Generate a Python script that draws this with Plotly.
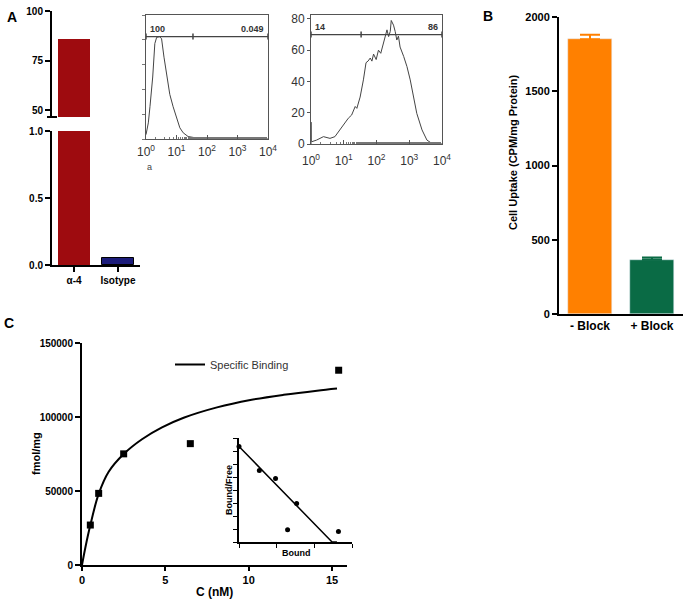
import plotly.graph_objects as go

W, H = 686, 601
FONT = "Liberation Sans, Arial, sans-serif"

# ---------------- Panel A: bar chart (broken axis) ----------------
a_cats = ["α-4", "Isotype"]
a_vals = [86, 0.05]
a_colors = ["#9E0B0F", "#1C1C7A"]
a_upper_ticks = [50, 75, 100]
a_lower_ticks = [0.0, 0.5, 1.0]
a_lower_ticktext = ["0.0", "0.5", "1.0"]

# ---------------- Panel A: flow histograms ----------------
h1_logx = [0.0, 0.076, 0.13, 0.22, 0.29, 0.35, 0.44, 0.51, 0.59, 0.68, 0.78,
           0.89, 1.0, 1.11, 1.22, 1.38, 1.66, 1.98, 3.0, 4.0]
h1_count = [3.5, 13, 26, 50, 77, 82, 82.5, 81, 66, 50, 36,
            26, 17, 9, 5, 2, 0.8, 0, 0, 0]
h1_gate = {"level": 82.6, "lo": 0.0, "mid": 1.54, "hi": 4.0,
           "left_label": "100", "right_label": "0.049"}

h2_logx = [0.0, 0.0, 0.005, 0.03, 0.17, 0.38, 0.48, 0.58, 0.73, 0.84, 0.99,
           1.14, 1.24, 1.35, 1.4, 1.5, 1.6, 1.68, 1.74, 1.81, 1.86, 1.91,
           1.99, 2.06, 2.13, 2.21, 2.26, 2.32, 2.37, 2.42, 2.45, 2.52, 2.57,
           2.62, 2.67, 2.72, 2.83, 2.93, 3.03, 3.13, 3.23, 3.39, 3.54, 3.69, 4.0]
h2_count = [0, 14, 2, 1.5, 2.5, 4.7, 4, 3.6, 4.7, 8, 12,
            16.5, 18.5, 24, 22.8, 30, 41, 52, 53, 55, 53, 57.5,
            54, 60, 58, 64, 67.6, 73, 68.7, 72, 79, 76, 72,
            66.5, 69, 62, 56, 49.5, 41, 30, 19.6, 9, 2.5, 0.4, 0]
h2_gate = {"level": 70, "lo": 0.0, "mid": 1.53, "hi": 4.0,
           "left_label": "14", "right_label": "86"}
hist_tickvals = [1, 10, 100, 1000, 10000]
hist_ticktext = ["10<sup>0</sup>", "10<sup>1</sup>", "10<sup>2</sup>",
                 "10<sup>3</sup>", "10<sup>4</sup>"]

# ---------------- Panel B ----------------
b_cats = ["- Block", "+ Block"]
b_vals = [1850, 365]
b_err = [30, 15]
b_colors = ["#FF8000", "#0A6B45"]

# ---------------- Panel C ----------------
c_conc = [0.5, 1.0, 2.5, 6.5, 15.4]
c_bound = [27000, 48400, 75100, 82000, 131600]
fit_conc = [0, 0.2, 0.5, 1.0, 1.6, 2.5, 3.6, 4.8, 6.1, 8.1, 10.1, 12.1, 14.1, 15.3]
fit_bound = [0, 11700, 27000, 48000, 63000, 75000, 85000, 93000, 99500,
             106500, 111500, 115000, 117800, 119200]

# Scatchard inset
sc_bound = [0, 0.54, 0.97, 1.53, 1.29, 2.64]
sc_ratio = [7.35, 5.5, 4.88, 2.97, 0.95, 0.8]
sc_line_x = [0, 2.47, 2.6]
sc_line_y = [7.35, 0, 0]


def dx(a, b):
    return [a / W, b / W]


def dy(top, bottom):
    return [1 - bottom / H, 1 - top / H]


def px(x):
    return x / W


def py(y):
    return 1 - y / H


bold11 = dict(family=FONT, size=11, color="black", weight="bold")
bold10 = dict(family=FONT, size=10, color="black", weight="bold")

fig = go.Figure()

# Panel A bars (upper and lower segments)
for xa, ya in [("x", "y"), ("x2", "y2")]:
    fig.add_trace(go.Bar(x=a_cats, y=a_vals,
                         marker=dict(color=a_colors, line=dict(color="black", width=[0, 1])),
                         width=0.72, xaxis=xa, yaxis=ya, showlegend=False))

# Histograms
fig.add_trace(go.Scatter(x=[10 ** v for v in h1_logx], y=h1_count, mode="lines",
                         line=dict(color="#444", width=1), xaxis="x3", yaxis="y3", showlegend=False))
fig.add_trace(go.Scatter(x=[10 ** v for v in h2_logx], y=h2_count, mode="lines",
                         line=dict(color="#444", width=1), xaxis="x4", yaxis="y4", showlegend=False))

# Panel B
for cat, val, err, col in zip(b_cats, b_vals, b_err, b_colors):
    fig.add_trace(go.Bar(x=[cat], y=[val], marker=dict(color=col), width=0.72,
                         error_y=dict(type="data", array=[err], arrayminus=[0], symmetric=False,
                                      color=col, thickness=2, width=10),
                         xaxis="x5", yaxis="y5", showlegend=False))

# Panel C
fig.add_trace(go.Scatter(x=fit_conc, y=fit_bound, mode="lines",
                         line=dict(color="black", width=2, shape="spline", smoothing=1),
                         name="Specific Binding", xaxis="x6", yaxis="y6", showlegend=True))
fig.add_trace(go.Scatter(x=c_conc, y=c_bound, mode="markers", marker=dict(symbol="square", size=7, color="black"),
                         xaxis="x6", yaxis="y6", showlegend=False, cliponaxis=False))

# Inset
fig.add_trace(go.Scatter(x=sc_line_x, y=sc_line_y, mode="lines", line=dict(color="black", width=1.5),
                         xaxis="x7", yaxis="y7", showlegend=False, cliponaxis=False))
fig.add_trace(go.Scatter(x=sc_bound, y=sc_ratio, mode="markers", marker=dict(symbol="circle", size=5, color="black"),
                         xaxis="x7", yaxis="y7", showlegend=False, cliponaxis=False))

noax = dict(showgrid=False, zeroline=False, automargin=False)
blackaxis = dict(showline=True, linecolor="black", linewidth=2, ticks="outside", ticklen=5,
                 tickwidth=2, tickcolor="black", **noax)

shapes = []
annotations = []

# gates
for g, xr, yr in [(h1_gate, "x3", "y3"), (h2_gate, "x4", "y4")]:
    shapes.append(dict(type="line", xref=xr, yref=yr, x0=10 ** g["lo"], x1=10 ** g["hi"],
                       y0=g["level"], y1=g["level"], line=dict(color="#444", width=1.2)))
    for k in ("lo", "mid", "hi"):
        shapes.append(dict(type="line", xref=xr, yref=yr, ysizemode="pixel", yanchor=g["level"],
                           x0=10 ** g[k], x1=10 ** g[k], y0=-3, y1=3, line=dict(color="#444", width=1.5)))
    annotations.append(dict(xref=xr, yref=yr, x=g["lo"] + 0.05, y=g["level"], text=g["left_label"],
                            showarrow=False, xanchor="left", yanchor="bottom", yshift=1,
                            font=dict(family=FONT, size=9, color="#333", weight="bold")))
    annotations.append(dict(xref=xr, yref=yr, x=g["hi"] - 0.05, y=g["level"], text=g["right_label"],
                            showarrow=False, xanchor="right", yanchor="bottom", yshift=1,
                            font=dict(family=FONT, size=9, color="#333", weight="bold")))

# broken-axis mark
shapes.append(dict(type="line", xref="paper", yref="paper", x0=px(47), x1=px(57), y0=py(117), y1=py(117),
                   line=dict(color="black", width=2)))


def label(text, x, y, font, angle=0):
    return dict(xref="paper", yref="paper", x=px(x), y=py(y), text=text, textangle=angle,
                showarrow=False, xanchor="center", yanchor="middle", font=font)


# panel letters
for t, x, y in [("A", 12, 17), ("B", 488, 16), ("C", 9, 323)]:
    annotations.append(label(t, x, y, dict(family=FONT, size=14, color="black", weight="bold")))

# axis titles
annotations += [
    label("Cell Uptake (CPM/mg Protein)", 513, 152, bold11, -90),
    label("fmol/mg", 36, 454, bold11, -90),
    label("C (nM)", 215, 592, dict(family=FONT, size=12, color="black", weight="bold")),
    label("Bound/Free", 229, 490, dict(family=FONT, size=9, color="black", weight="bold"), -90),
    label("Bound", 296, 553, dict(family=FONT, size=9, color="black", weight="bold")),
    label("a", 149, 167, dict(family=FONT, size=9, color="#444")),
]

histx = dict(type="log", range=[0, 4], showline=True, mirror=True, linecolor="#555", linewidth=1,
             ticks="inside", ticklen=4, tickcolor="#555", tickvals=hist_tickvals, ticktext=hist_ticktext,
             tickfont=dict(family=FONT, size=12, color="#333"),
             minor=dict(ticks="inside", ticklen=2, tickcolor="#777"), **noax)

fig.update_layout(
    width=W, height=H, margin=dict(l=0, r=0, t=0, b=0, pad=0, autoexpand=False),
    autosize=False,
    paper_bgcolor="white", plot_bgcolor="rgba(0,0,0,0)",
    font=dict(family=FONT, color="black"),
    bargap=0, barmode="overlay",
    xaxis=dict(domain=dx(52, 140), anchor="y", range=[-0.5, 1.5], visible=False, **noax),
    yaxis=dict(domain=dy(11, 117), anchor="x", range=[46.5, 100], tickvals=a_upper_ticks,
               tickfont=bold10, **blackaxis),
    xaxis2=dict(domain=dx(52, 140), anchor="y2", range=[-0.5, 1.5], tickfont=bold10, **blackaxis),
    yaxis2=dict(domain=dy(131, 265), anchor="x2", range=[0, 1], tickvals=a_lower_ticks,
                ticktext=a_lower_ticktext, tickfont=bold10, **blackaxis),
    xaxis3=dict(domain=dx(146, 268), anchor="y3", ticklabelstandoff=2, **histx),
    yaxis3=dict(domain=dy(15, 139), anchor="x3", range=[0, 100], dtick=20, showline=True, mirror=True,
                linecolor="#555", linewidth=1, ticks="outside", ticklen=3, tickcolor="#777",
                showticklabels=False, **noax),
    xaxis4=dict(domain=dx(311, 442), anchor="y4", ticklabelstandoff=6, **histx),
    yaxis4=dict(domain=dy(15, 144), anchor="x4", range=[0, 82.5], dtick=20, showline=True, mirror=True,
                linecolor="#555", linewidth=1, ticks="outside", ticklen=3, tickcolor="#555",
                tickfont=dict(family=FONT, size=12, color="#333"), **noax),
    xaxis5=dict(domain=dx(559, 683), anchor="y5", range=[-0.5, 1.5], showline=True, linecolor="black",
                linewidth=2, ticks="", tickfont=dict(family=FONT, size=12, color="black", weight="bold"), **noax),
    yaxis5=dict(domain=dy(17, 314), anchor="x5", range=[0, 2000], dtick=500, tickfont=bold11, **blackaxis),
    xaxis6=dict(domain=dx(82, 347), anchor="y6", range=[0, 15.9], dtick=5, tickfont=bold11,
                **{**blackaxis, "ticklen": 4}),
    yaxis6=dict(domain=dy(343, 565), anchor="x6", range=[0, 150000], dtick=50000, tickformat="d",
                tickfont=dict(family=FONT, size=10, color="black", weight="bold"), **blackaxis),
    xaxis7=dict(domain=dx(239, 352), anchor="y7", range=[0, 3], tickvals=[0, 1, 2, 3], showline=True,
                linecolor="black", linewidth=1.5, ticks="outside", ticklen=4, tickcolor="black",
                showticklabels=False, **noax),
    yaxis7=dict(domain=dy(438, 542), anchor="x7", range=[0, 8], dtick=1, showline=True,
                linecolor="black", linewidth=1.5, ticks="outside", ticklen=4, tickcolor="black",
                showticklabels=False, **noax),
    legend=dict(x=px(170), y=py(350), xanchor="left", yanchor="top", bgcolor="rgba(0,0,0,0)",
                font=dict(family=FONT, size=11, color="#333"), itemwidth=30),
    shapes=shapes, annotations=annotations,
)

fig.write_html("out.html", config={"displayModeBar": False},
               post_script="document.body.style.margin='0px';document.body.style.padding='0px';")
